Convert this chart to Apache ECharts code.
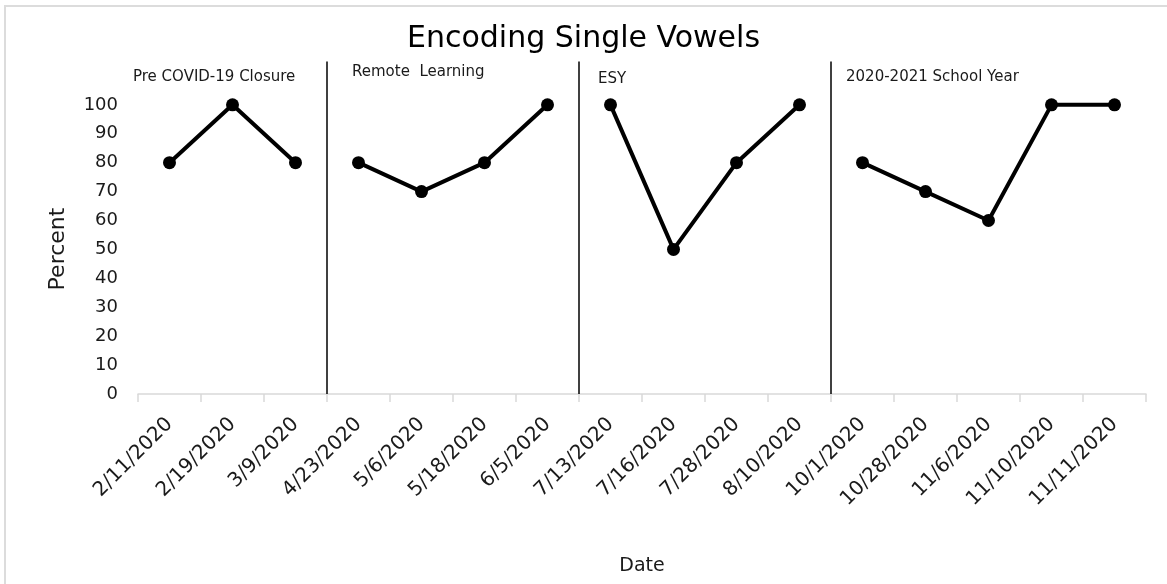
<!DOCTYPE html>
<html>
<head>
<meta charset="utf-8">
<script src="https://cdn.jsdelivr.net/npm/echarts@6/dist/echarts.min.js"></script>
<style>
  html, body { margin: 0; padding: 0; background: #fff; }
  #main { width: 1167px; height: 584px; }
</style>
</head>
<body>
<div id="main"></div>
<script>
const dates = ['2/11/2020', '2/19/2020', '3/9/2020', '4/23/2020', '5/6/2020', '5/18/2020', '6/5/2020',
  '7/13/2020', '7/16/2020', '7/28/2020', '8/10/2020', '10/1/2020', '10/28/2020', '11/6/2020',
  '11/10/2020', '11/11/2020'];
// one array per phase, in date order
const preCovid = [80, 100, 80];
const remoteLearning = [80, 70, 80, 100];
const esy = [100, 50, 80, 100];
const schoolYear = [80, 70, 60, 100, 100];
const phaseNames = ['Pre COVID-19 Closure', 'Remote  Learning', 'ESY', '2020-2021 School Year'];
const yTicks = [0, 10, 20, 30, 40, 50, 60, 70, 80, 90, 100];

const phases = [preCovid, remoteLearning, esy, schoolYear];
const font = 'DejaVu Sans';
const txt = '#1a1a1a';

// pad each phase with '-' so the line breaks between phases
let start = 0;
const phaseStarts = [];
const lineSeries = phases.map((vals) => {
  const d = dates.map(() => '-');
  vals.forEach((v, i) => { d[start + i] = v; });
  phaseStarts.push(start);
  start += vals.length;
  return {
    type: 'line',
    data: d,
    symbol: 'circle',
    symbolSize: 13,
    lineStyle: { color: '#000', width: 4 },
    itemStyle: { color: '#000' },
    connectNulls: false,
    z: 3
  };
});
const breaks = phaseStarts.slice(1);

const chart = echarts.init(document.getElementById('main'));

// phase label anchors (left, vertical middle)
const phaseLabelPos = [[133, 77], [352, 72], [598, 79], [846, 77]];

const option = {
  animation: false,
  title: {
    text: 'Encoding Single Vowels',
    left: 'center',
    top: 19,
    textStyle: { fontFamily: font, fontSize: 30, fontWeight: 'normal', color: '#000' }
  },
  grid: { left: 138, right: 21, top: 47, bottom: 190 },
  xAxis: [{
    type: 'category',
    data: dates,
    boundaryGap: true,
    name: 'Date',
    nameLocation: 'middle',
    nameGap: 163,
    nameTextStyle: { fontFamily: font, fontSize: 19, color: txt },
    axisLine: { lineStyle: { color: '#d9d9d9', width: 1.5 } },
    axisTick: { show: true, length: 8, interval: 0, lineStyle: { color: '#d9d9d9', width: 1.5 } },
    axisLabel: { rotate: 45, interval: 0, fontFamily: font, fontSize: 20, color: txt, margin: 27 },
    splitLine: { show: false }
  }, {
    // hidden value axis used to place the phase divider lines on category boundaries
    type: 'value',
    min: 0,
    max: dates.length,
    show: false
  }],
  yAxis: {
    type: 'value',
    min: 0,
    max: 120,
    interval: 10,
    axisLine: { show: false },
    axisTick: { show: false },
    splitLine: { show: false },
    axisLabel: {
      fontFamily: font, fontSize: 18, color: txt, margin: 20,
      formatter: (v) => (yTicks.indexOf(v) >= 0 ? String(v) : '')
    }
  },
  series: lineSeries.concat([{
    type: 'line',
    xAxisIndex: 1,
    data: [],
    markLine: {
      silent: true,
      symbol: 'none',
      label: { show: false },
      lineStyle: { color: '#000', width: 1.5, type: 'solid' },
      data: breaks.map((b) => [{ coord: [b, 0] }, { coord: [b, 115] }])
    }
  }]),
  graphic: [
    {
      type: 'rect',
      shape: { x: 5, y: 6, width: 1300, height: 700 },
      style: { fill: 'none', stroke: '#dcdcdc', lineWidth: 2 },
      silent: true
    },
    {
      type: 'text', x: 58, y: 249, rotation: Math.PI / 2,
      style: { text: 'Percent', fontFamily: font, fontSize: 22, fill: txt, align: 'center', verticalAlign: 'middle' }
    }
  ].concat(phaseNames.map((name, i) => ({
    type: 'text',
    x: phaseLabelPos[i][0],
    y: phaseLabelPos[i][1],
    style: { text: name, fontFamily: font, fontSize: 15, fill: txt, align: 'left', verticalAlign: 'middle' }
  })))
};

chart.setOption(option);
</script>
</body>
</html>
